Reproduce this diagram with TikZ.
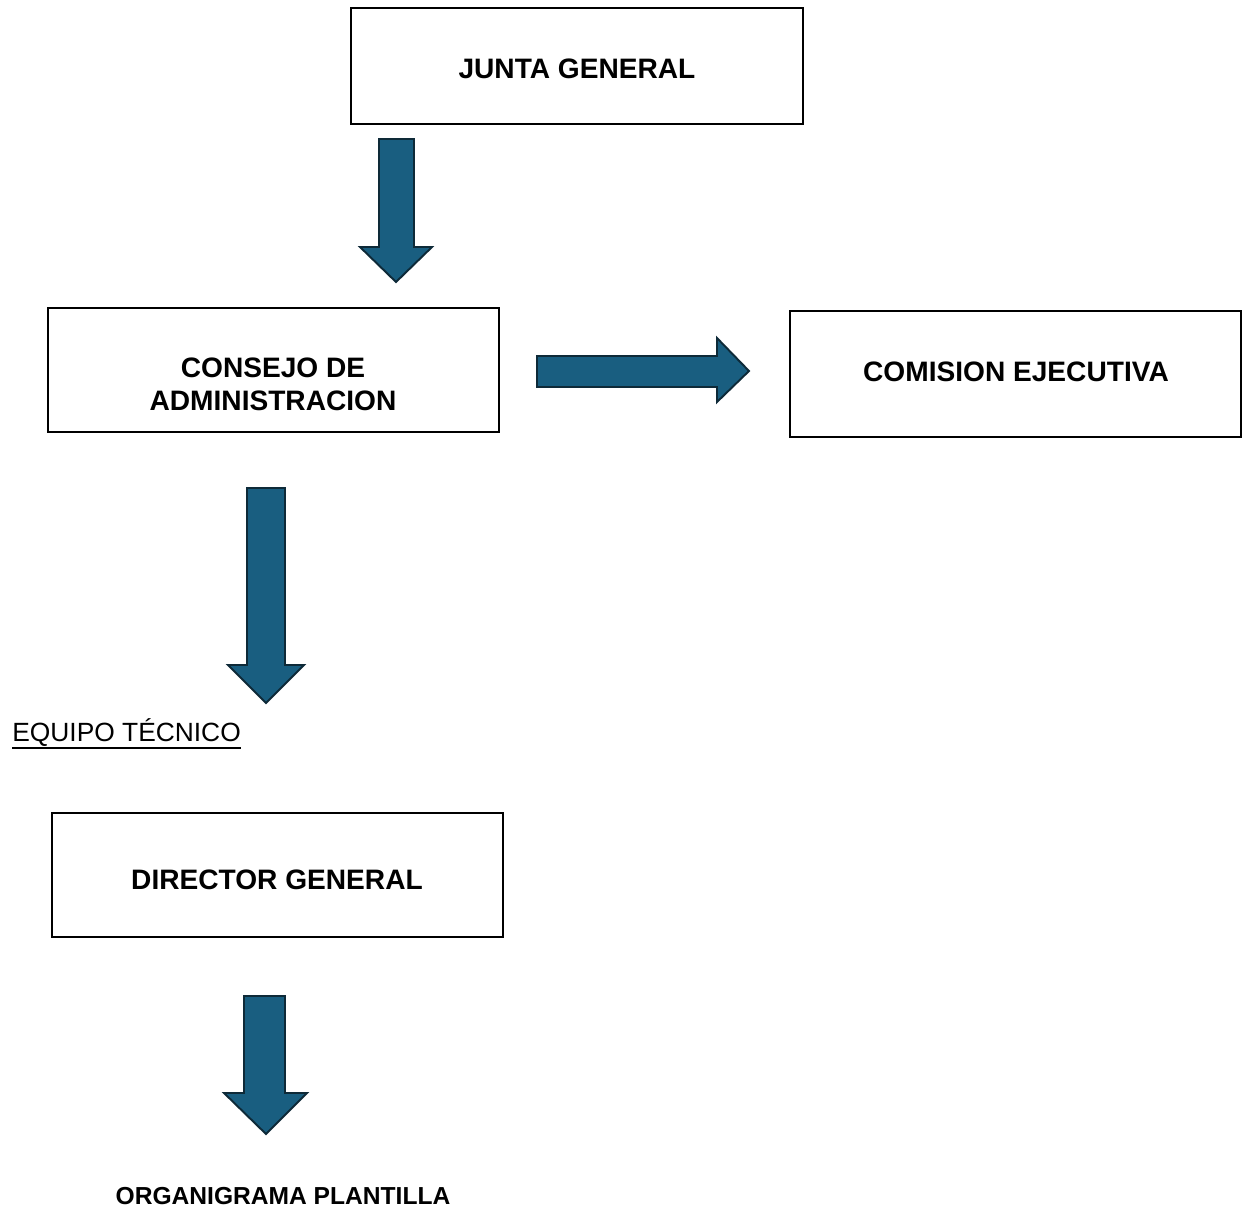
\documentclass[tikz,border=0pt]{standalone}
\usepackage{fontspec}
\setmainfont{Liberation Sans}
\definecolor{arrfill}{RGB}{25,94,128}
\definecolor{arrline}{RGB}{14,42,56}
\begin{document}
\begin{tikzpicture}[x=0.02cm,y=-0.02cm,
  box/.style={draw=black,line width=0.8pt,inner sep=0pt},
  lbl/.style={font=\fontsize{16}{18.8}\selectfont\bfseries,align=center,inner sep=0pt},
  blockarrow/.style={fill=arrfill,draw=arrline,line width=1.1pt,line join=miter}]
\useasboundingbox (0,0) rectangle (1245,1207);
% boxes
\draw[box] (351,8) rectangle (803,124);
\node[lbl] (jg) at (577,69) {JUNTA GENERAL};
\draw[box] (48,308) rectangle (499,432);
\node[lbl] (ca) at (273,384) {CONSEJO DE\\ADMINISTRACION};
\draw[box] (790,311) rectangle (1241,437);
\node[lbl] (ce) at (1016,372) {COMISION EJECUTIVA};
\draw[box] (52,813) rectangle (503,937);
\node[lbl] (dg) at (277,880) {DIRECTOR GENERAL};
\node[font=\fontsize{15}{18}\selectfont,anchor=base west,inner sep=0pt] (et) at (12,741) {EQUIPO TÉCNICO};
\draw[line width=1.1pt] (et.base west) ++(0,7) coordinate (ul1) -- (ul1 -| et.east);
\node[font=\fontsize{14}{17}\selectfont\bfseries,anchor=base,inner sep=0pt] (op) at (283,1204) {ORGANIGRAMA PLANTILLA};
% arrows
\draw[blockarrow] (379,139) -- (414,139) -- (414,247) -- (432,247) -- (396,282) -- (360,247) -- (379,247) -- cycle;
\draw[blockarrow] (537,356) -- (717,356) -- (717,338) -- (749,371) -- (717,402) -- (717,387) -- (537,387) -- cycle;
\draw[blockarrow] (247,488) -- (285,488) -- (285,665) -- (304,665) -- (266,703) -- (228,665) -- (247,665) -- cycle;
\draw[blockarrow] (244,996) -- (285,996) -- (285,1093) -- (307,1093) -- (266,1134) -- (224,1093) -- (244,1093) -- cycle;
\end{tikzpicture}
\end{document}
